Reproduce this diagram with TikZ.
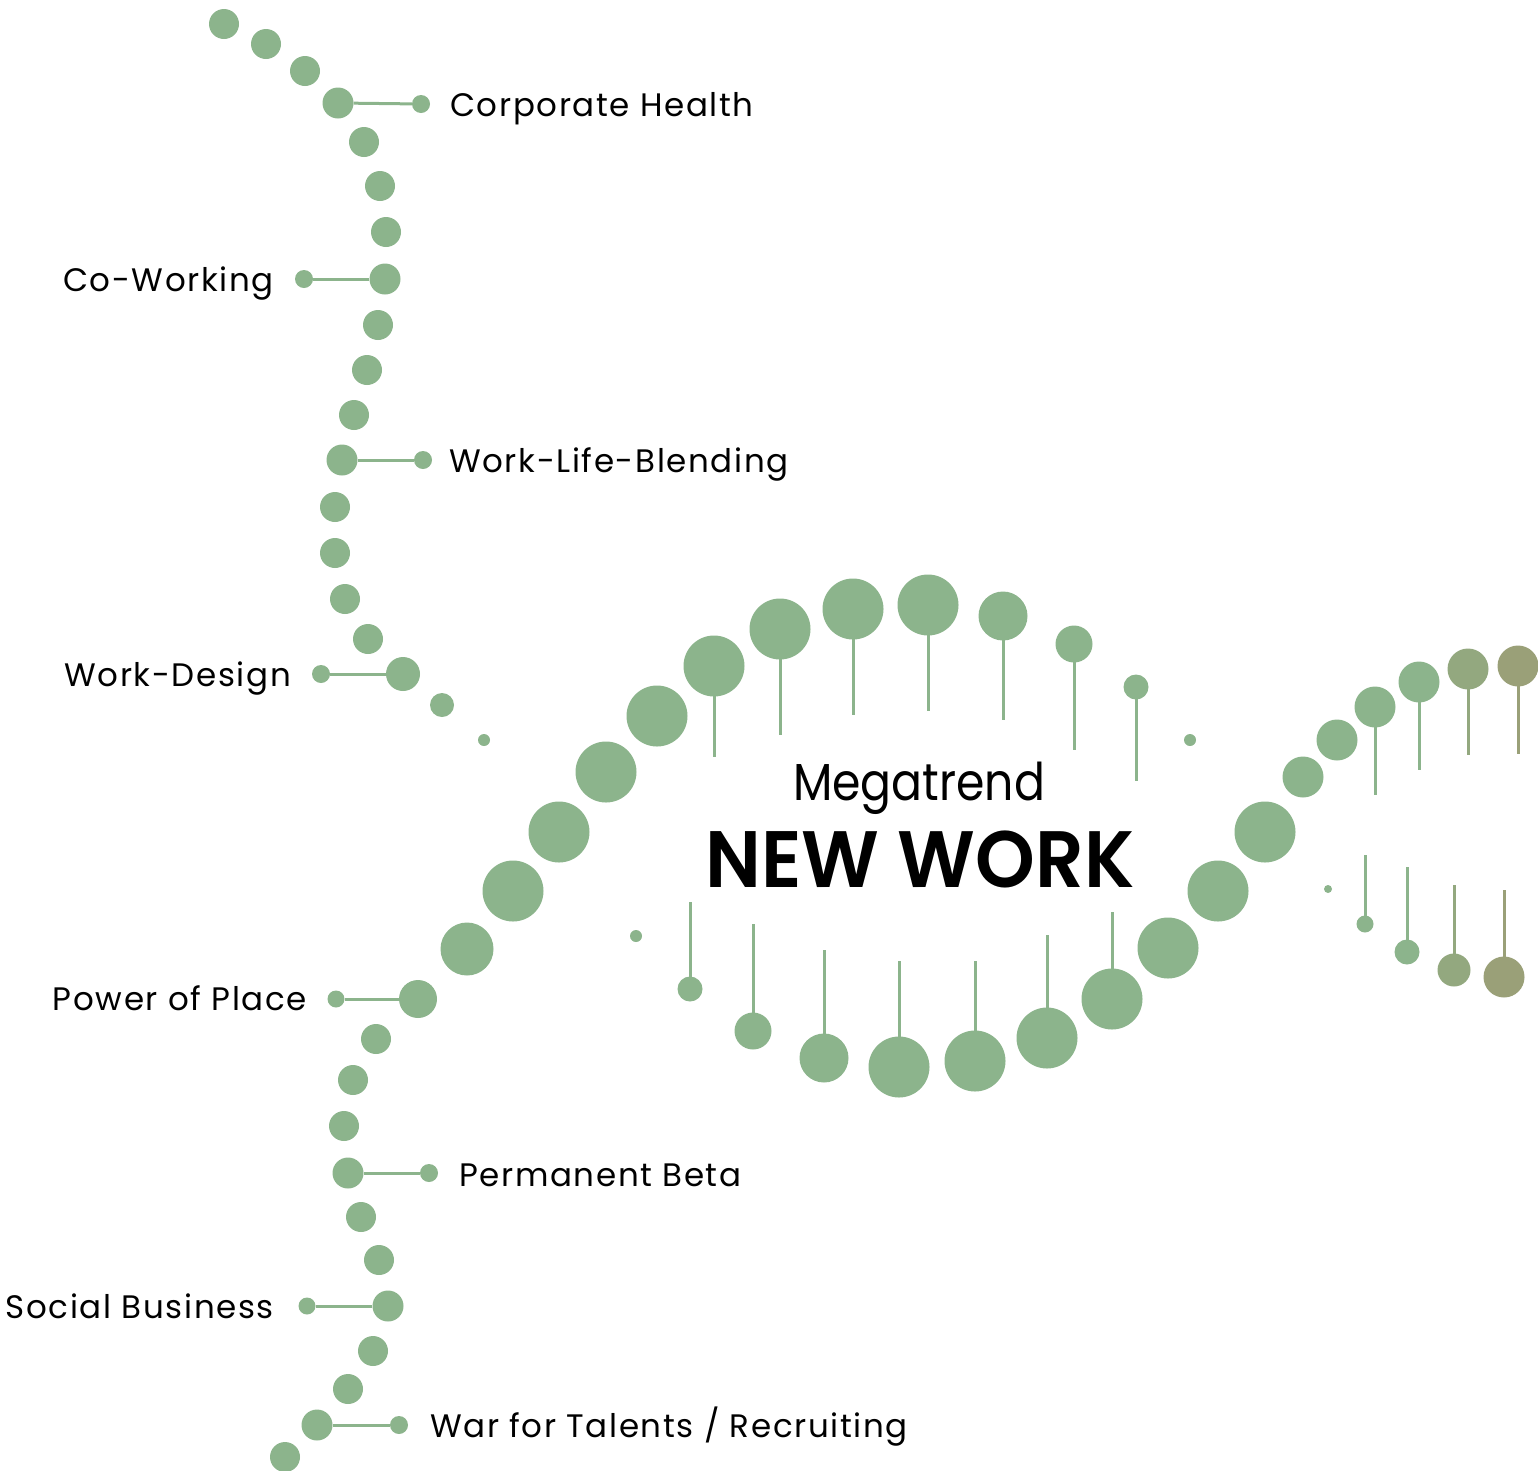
\documentclass[tikz,border=0pt]{standalone}
\usepackage{fontspec}
\setmainfont{Poppins}[BoldFont={Poppins SemiBold}]
\definecolor{dna}{HTML}{8CB48C}
\definecolor{dnaA}{HTML}{8FAE86}
\definecolor{dnaB}{HTML}{93A87F}
\definecolor{dnaC}{HTML}{9AA078}
\begin{document}
\begin{tikzpicture}[x=1pt,y=-1pt,
  dot/.style={circle,fill=dna,draw=none,inner sep=0pt,minimum size=#1},
  dot/.default=30,
  conn/.style={draw=dna,line width=3pt},
  lbl/.style={font=\fontsize{32.5}{38}\selectfont\addfontfeatures{LetterSpace=5},text=black,inner sep=0pt}]
\useasboundingbox (0,0) rectangle (1538,1470);
% ---- left strand, upper part
\foreach \n/\x/\y/\s in {a1/224/24/30,a2/266/44/30,a3/305/71/30,a4/338/103/31,a5/364/142/30,a6/380/186/30,a7/386/232/30,a8/385/279/31,a9/378/325/30,a10/367/370/30,a11/354/415/30,a12/342/460/31,a13/335/507/30,a14/335/553/30,a15/345/599/30,a16/368/639/30,a17/403/674/34,a18/442/705/24,a19/484/740/12}
  \node[dot=\s] (\n) at (\x,\y) {};
% ---- left strand, lower part
\foreach \n/\x/\y/\s in {b1/418/999/38,b2/376/1039/30,b3/353/1080/30,b4/344/1126/30,b5/348/1173/31,b6/361/1217/30,b7/379/1260/30,b8/388/1306/31,b9/373/1351/30,b10/348/1389/30,b11/317/1425/31,b12/285/1457/30}
  \node[dot=\s] (\n) at (\x,\y) {};
% ---- end dots of the label connectors
\node[dot=18] (e1) at (421,104) {};
\node[dot=18] (e2) at (304,279) {};
\node[dot=18] (e3) at (423,460) {};
\node[dot=18] (e4) at (321,674) {};
\node[dot=17] (e5) at (336,999) {};
\node[dot=18] (e6) at (429,1173) {};
\node[dot=17] (e7) at (307,1306) {};
\node[dot=18] (e8) at (399,1425) {};
\draw[conn] (a4) -- (e1);
\draw[conn] (a8) -- (e2);
\draw[conn] (a12) -- (e3);
\draw[conn] (a17) -- (e4);
\draw[conn] (b1) -- (e5);
\draw[conn] (b5) -- (e6);
\draw[conn] (b8) -- (e7);
\draw[conn] (b11) -- (e8);
% ---- labels
\node[lbl,anchor=base west] (t1) at (450,116) {Corporate Health};
\node[lbl,anchor=base east] (t2) at (274,291) {Co-Working};
\node[lbl,anchor=base west] (t3) at (449,472) {Work-Life-Blending};
\node[lbl,anchor=base east] (t4) at (291,686) {Work-Design};
\node[lbl,anchor=base east] (t5) at (307,1010) {Power of Place};
\node[lbl,anchor=base west] (t6) at (459,1186) {Permanent Beta};
\node[lbl,anchor=base east] (t7) at (274,1318) {Social Business};
\node[lbl,anchor=base west] (t8) at (430,1437) {War for Talents / Recruiting};
% ---- big strand rising from lower left to upper right (upper arc)
\foreach \n/\x/\y/\s in {u1/467/949/53,u2/513/891/61,u3/559/832/61,u4/606/772/61,u5/657/716/61,u6/714/666/61,u7/780/629/61,u8/853/609/61,u9/928/605/61,u10/1003/616/49,u11/1074/644/37,u12/1136/687/25,u13/1190/740/12}
  \node[dot=\s] (\n) at (\x,\y) {};
% ---- lower arc
\foreach \n/\x/\y/\s in {w1/636/936/12,w2/690/989/25,w3/753/1031/37,w4/824/1058/49,w5/899/1067/61,w6/975/1061/61,w7/1047/1038/61,w8/1112/999/61,w9/1168/948/61,w10/1218/891/61,w11/1265/832/61,w12/1303/777/41,w13/1337/740/41,w14/1375/707/41,w15/1419/682/41}
  \node[dot=\s] (\n) at (\x,\y) {};
\node[dot=41,fill=dnaB] (w16) at (1468,669) {};
\node[dot=41,fill=dnaC] (w17) at (1518,666) {};
% ---- right lower small dots
\node[dot=8] (r1) at (1328,889) {};
\node[dot=17] (r2) at (1365,924) {};
\node[dot=25] (r3) at (1407,952) {};
\node[dot=33,fill=dnaB] (r4) at (1454,970) {};
\node[dot=41,fill=dnaC] (r5) at (1504,977) {};
% ---- stems
\foreach \n/\x/\y in {u6/714/757,u7/780/735,u8/853/715,u9/928/711,u10/1003/720,u11/1074/750,u12/1136/781,
  w2/690/902,w3/753/924,w4/824/950,w5/899/961,w6/975/961,w7/1047/935,w8/1112/912,
  w14/1375/795,w15/1419/770,r2/1365/855,r3/1407/867}
  {\coordinate (s\n) at (\x,\y); \draw[conn] (\n.center) -- (s\n);}
\coordinate (sw16) at (1468,755);
\coordinate (sw17) at (1518,754);
\coordinate (sr4) at (1454,885);
\coordinate (sr5) at (1504,890);
\draw[draw=dnaB,line width=3pt] (w16.center) -- (sw16);
\draw[draw=dnaC,line width=3pt] (w17.center) -- (sw17);
\draw[draw=dnaB,line width=3pt] (r4.center) -- (sr4);
\draw[draw=dnaC,line width=3pt] (r5.center) -- (sr5);
% ---- title
\node[anchor=base,inner sep=0pt] (m1) at (919,800) {\scalebox{0.88}[1]{\fontsize{52}{60}\selectfont Megatrend}};
\node[anchor=base,inner sep=0pt] (m2) at (920,887) {\scalebox{0.95}[1]{\fontsize{80}{90}\selectfont\bfseries NEW WORK}};
\end{tikzpicture}
\end{document}
